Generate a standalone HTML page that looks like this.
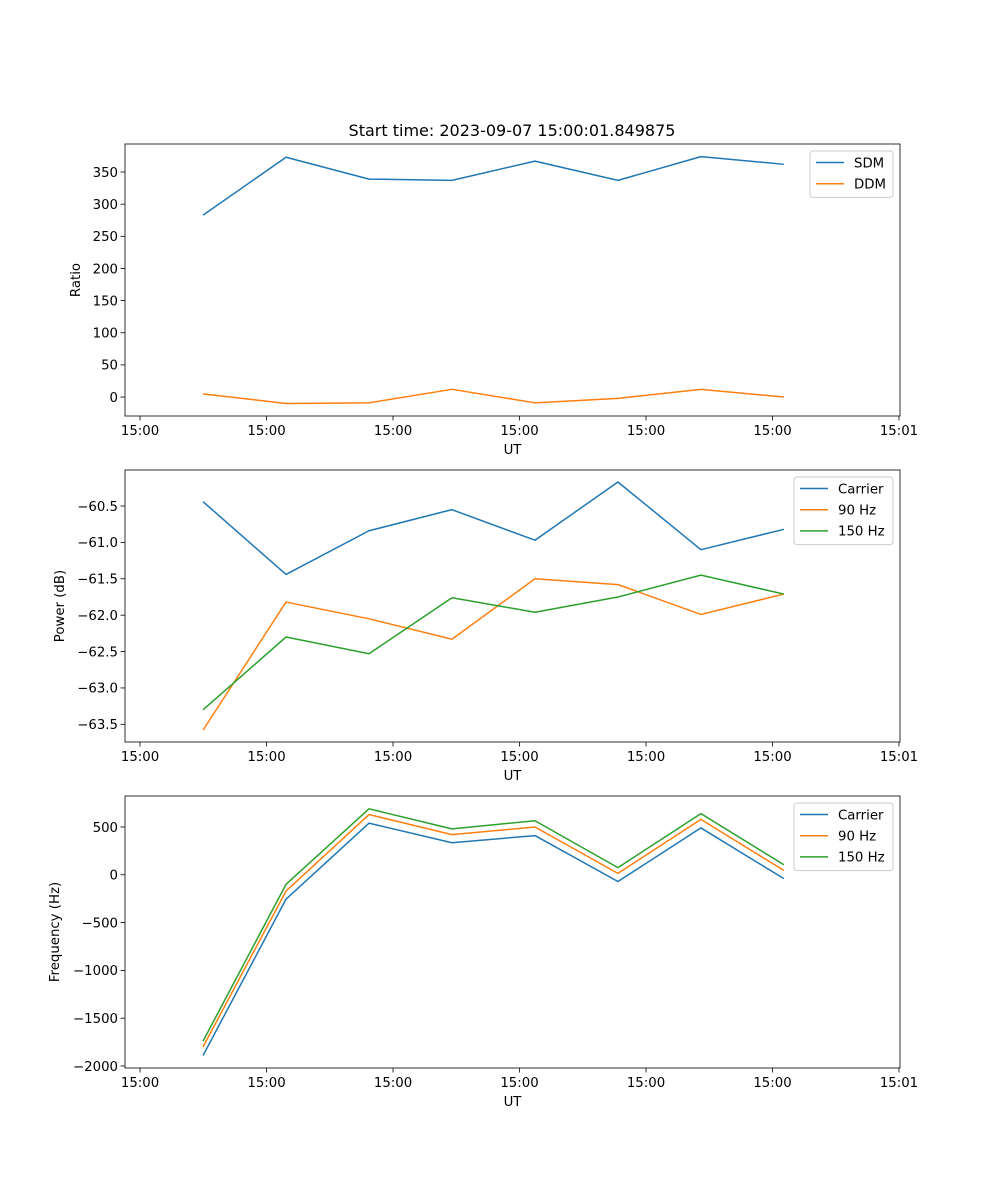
<!DOCTYPE html>
<html><head><meta charset="utf-8">
<style>
html,body{margin:0;padding:0;background:#fff;}
svg{display:block;font-family:"DejaVu Sans","Liberation Sans",sans-serif;}
</style></head>
<body>
<svg id="fig" width="1000" height="1200" viewBox="0 0 1000 1200" xmlns="http://www.w3.org/2000/svg">
<rect width="1000" height="1200" fill="#fff"/>
<text x="512" y="136" font-size="16" text-anchor="middle">Start time: 2023-09-07 15:00:01.849875</text>
</svg>
<script>
// time in seconds after 15:00:00
const times = [4.98, 11.54, 18.10, 24.66, 31.22, 37.78, 44.34, 50.90];
const xTickVals = [0, 10, 20, 30, 40, 50, 60];
const xTickLabels = ["15:00","15:00","15:00","15:00","15:00","15:00","15:01"];
const sdm = [283, 373, 339, 337, 367, 337, 374, 362];
const ddm = [5, -10, -9, 12, -9, -2, 12, 0];
const ratioTicks = [0, 50, 100, 150, 200, 250, 300, 350];
const powCarrier = [-60.44, -61.44, -60.84, -60.55, -60.97, -60.17, -61.10, -60.82];
const pow90 = [-63.58, -61.82, -62.05, -62.33, -61.50, -61.58, -61.99, -61.71];
const pow150 = [-63.30, -62.30, -62.53, -61.76, -61.96, -61.75, -61.45, -61.71];
const powTicks = [-63.5, -63.0, -62.5, -62.0, -61.5, -61.0, -60.5];
const freqCarrier = [-1890, -255, 540, 335, 410, -70, 490, -40];
const freq90 = [-1800, -170, 630, 420, 500, 15, 580, 45];
const freq150 = [-1740, -100, 690, 480, 565, 75, 640, 105];
const freqTicks = [-2000, -1500, -1000, -500, 0, 500];

const NS = "http://www.w3.org/2000/svg";
const svg = document.getElementById("fig");
const C = {blue:"#1f77b4", orange:"#ff7f0e", green:"#2ca02c"};
const L = 125, R = 900, xMin = -1.19, xMax = 60.08;
const xs = v => L + (v - xMin) / (xMax - xMin) * (R - L);
function mk(tag, attrs, parent) {
  const e = document.createElementNS(NS, tag);
  for (const k in attrs) e.setAttribute(k, attrs[k]);
  (parent || svg).appendChild(e);
  return e;
}
function fmt(v){ return String(v).replace("-", "\u2212"); }

function panel(name, top, bot, yMin, yMax, ticks, tickFmt, ylabel, series, legendW) {
  const g = mk("g", {});
  
  
  const ys = v => bot - (v - yMin) / (yMax - yMin) * (bot - top);
  xTickVals.forEach((t, i) => {
    const x = xs(t);
    mk("line", {x1:x, x2:x, y1:bot, y2:bot+4.5, stroke:"#000", "stroke-width":0.8}, g);
    const tx = mk("text", {x:x, y:bot+19, "font-size":13.3, "text-anchor":"middle"}, g);
    
    
    tx.textContent = xTickLabels[i];
  });
  ticks.forEach(t => {
    const y = ys(t);
    mk("line", {x1:L-4.5, x2:L, y1:y, y2:y, stroke:"#000", "stroke-width":0.8}, g);
    const ty = mk("text", {x:L-7, y:y+4.8, "font-size":13.3, "text-anchor":"end"}, g);
    
    
    ty.textContent = tickFmt(t);
  });
  const xl = mk("text", {x:(L+R)/2, y:bot+38, "font-size":13.3, "text-anchor":"middle"}, g);
  
  
  xl.textContent = "UT";
  const yc = (top+bot)/2, ylx = ylabel.x;
  const yl = mk("text", {x:ylx, y:yc, "font-size":13.3, "text-anchor":"middle", transform:`rotate(-90 ${ylx} ${yc})`}, g);
  
  
  yl.textContent = ylabel.t;
  series.forEach(s => {
    const pts = s.vals.map((v, i) => xs(times[i]).toFixed(2) + "," + ys(v).toFixed(2)).join(" ");
    const p = mk("polyline", {points:pts, fill:"none", stroke:s.c, "stroke-width":1.5, "stroke-linejoin":"round"}, g);
    
    
  });
  mk("rect", {x:L, y:top, width:R-L, height:bot-top, fill:"none", stroke:"#000", "stroke-width":0.8}, g);
  const lh = 4 + series.length * 21.2;
  const lx = R - 7 - legendW, ly = top + 7;
  const lg = mk("g", {}, g);
  
  
  mk("rect", {x:lx, y:ly, width:legendW, height:lh, rx:3, fill:"#fff", "fill-opacity":0.8, stroke:"#ccc", "stroke-width":1}, lg);
  series.forEach((s, i) => {
    const y = ly + 11.5 + i * 21.2;
    const e = mk("g", {}, lg);
    
    
    mk("line", {x1:lx+6, x2:lx+34, y1:y, y2:y, stroke:s.c, "stroke-width":1.5}, e);
    const t = mk("text", {x:lx+44, y:y+4.8, "font-size":13.3}, e);
    t.textContent = s.n;
  });
}

panel("ratio", 144, 416, -29.5, 393.6, ratioTicks, v => fmt(v), {x:80, t:"Ratio"},
  [{n:"SDM", c:C.blue, vals:sdm}, {n:"DDM", c:C.orange, vals:ddm}], 83);
panel("power", 470, 742, -63.743, -60.005, powTicks, v => fmt(v.toFixed(1)), {x:64, t:"Power (dB)"},
  [{n:"Carrier", c:C.blue, vals:powCarrier}, {n:"90 Hz", c:C.orange, vals:pow90}, {n:"150 Hz", c:C.green, vals:pow150}], 99);
panel("frequency", 796, 1068, -2021, 824, freqTicks, v => fmt(v), {x:59, t:"Frequency (Hz)"},
  [{n:"Carrier", c:C.blue, vals:freqCarrier}, {n:"90 Hz", c:C.orange, vals:freq90}, {n:"150 Hz", c:C.green, vals:freq150}], 99);
</script>
</body></html>
